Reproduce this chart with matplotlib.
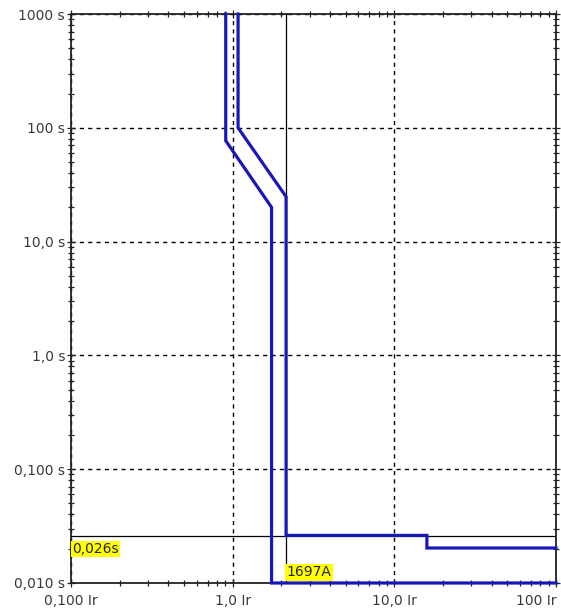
import matplotlib
matplotlib.use("Agg")
import matplotlib.pyplot as plt
from matplotlib.ticker import LogLocator, NullFormatter

# tripping curves (x in multiples of Ir, y in seconds)
curve_low_x = [0.906, 0.906, 1.74, 1.74, 100]
curve_low_y = [1000, 77, 20, 0.01, 0.01]
curve_high_x = [1.08, 1.08, 2.14, 2.14, 15.9, 15.9, 100]
curve_high_y = [1000, 100, 24.8, 0.0262, 0.0262, 0.0203, 0.0203]

marker_x = 2.14
marker_y = 0.026
marker_x_label = "1697A"
marker_y_label = "0,026s"

x_ticks = [0.1, 1, 10, 100]
x_labels = ["0,100 Ir", "1,0 Ir", "10,0 Ir", "100 Ir"]
y_ticks = [0.01, 0.1, 1, 10, 100, 1000]
y_labels = ["0,010 s", "0,100 s", "1,0 s", "10,0 s", "100 s", "1000 s"]

W, H = 561, 614
fig = plt.figure(figsize=(W / 100, H / 100), dpi=100)
ax = fig.add_axes([71 / W, 1 - 583 / H, (556 - 71) / W, (583 - 14) / H])

ax.set_xscale("log")
ax.set_yscale("log")
ax.set_xlim(0.1, 100)
ax.set_ylim(0.01, 1000)

ax.grid(True, which="major", color="black", linestyle=(0, (3, 3)), linewidth=1.0)

# marker lines
ax.axvline(marker_x, color="black", linewidth=0.9, zorder=3)
ax.axhline(marker_y, color="black", linewidth=0.9, zorder=3)

blue = "#1818b8"
ax.plot(curve_low_x, curve_low_y, color=blue, linewidth=2.3, clip_on=False, zorder=4,
        solid_joinstyle="miter")
ax.plot(curve_high_x, curve_high_y, color=blue, linewidth=2.3, clip_on=False, zorder=4,
        solid_joinstyle="miter")

ax.text(0.1018, marker_y * 0.88, marker_y_label, ha="left", va="top", fontsize=10,
        color="#222222", bbox=dict(facecolor="#ffff00", edgecolor="none", pad=1.0), zorder=5)
ax.text(marker_x * 1.005, 0.0108, marker_x_label, ha="left", va="bottom", fontsize=10,
        color="#222222", bbox=dict(facecolor="#ffff00", edgecolor="none", pad=1.0), zorder=5)

ax.set_xticks(x_ticks)
ax.set_xticklabels(x_labels)
ax.set_yticks(y_ticks)
ax.set_yticklabels(y_labels)
ax.xaxis.set_minor_locator(LogLocator(base=10, subs=range(2, 10)))
ax.yaxis.set_minor_locator(LogLocator(base=10, subs=range(2, 10)))
ax.xaxis.set_minor_formatter(NullFormatter())
ax.yaxis.set_minor_formatter(NullFormatter())

ax.tick_params(which="both", direction="inout", top=True, right=True,
               colors="#222222", labelsize=10, labelcolor="#3a3a3a")
ax.tick_params(which="major", length=5.5, width=0.9)
ax.tick_params(which="minor", length=4, width=0.9)
ax.tick_params(axis="x", pad=5.5)
ax.tick_params(axis="y", pad=1.5)
ax.get_xticklabels()[-1].set_ha("right")

for s in ax.spines.values():
    s.set_linewidth(1.3)
    s.set_color("#222222")

fig.savefig("out.png", dpi=100)
